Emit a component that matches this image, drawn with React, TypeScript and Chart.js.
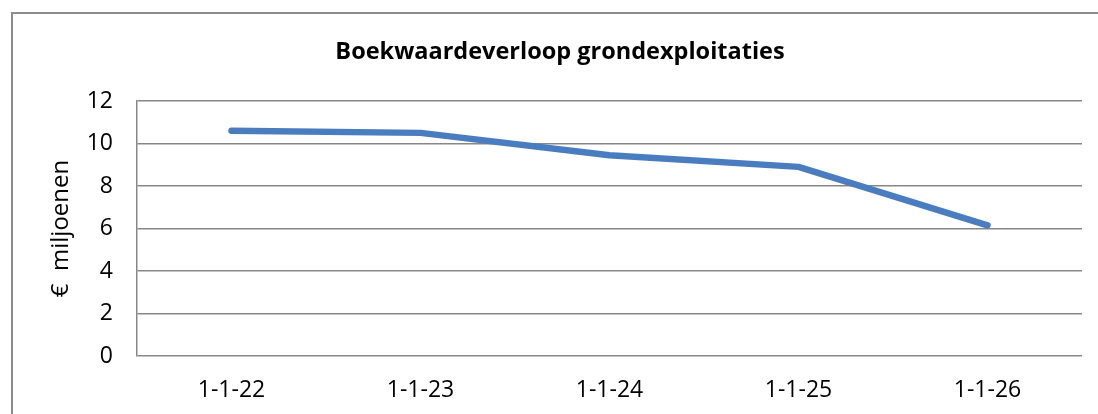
import React, { useEffect, useRef } from "react";
import { Chart, registerables } from "chart.js";

Chart.register(...registerables);

const categories: string[] = ["1-1-22", "1-1-23", "1-1-24", "1-1-25", "1-1-26"];
const boekwaarde: number[] = [10.6, 10.5, 9.45, 8.9, 6.15];
const chartTitle = "Boekwaardeverloop grondexploitaties";
const yAxisTitle = "€  miljoenen";
const yMin = 0;
const yMax = 12;
const yStep = 2;

const FONT = "'Open Sans', 'Liberation Sans', sans-serif";

const titlePlugin = {
  id: "centeredTitle",
  afterDraw(chart: any) {
    const ctx = chart.ctx;
    ctx.save();
    ctx.font = `bold 23.5px ${FONT}`;
    ctx.fillStyle = "#000000";
    ctx.textAlign = "center";
    ctx.textBaseline = "middle";
    ctx.fillText(chartTitle, 560, 52);
    ctx.restore();
  },
};

export default function App() {
  const canvasRef = useRef<HTMLCanvasElement | null>(null);

  useEffect(() => {
    if (!canvasRef.current) return;
    const chart = new Chart(canvasRef.current, {
      type: "line",
      data: {
        labels: categories,
        datasets: [
          {
            label: chartTitle,
            data: boekwaarde,
            borderColor: "#4a7dbf",
            borderWidth: 6.5,
            pointRadius: 0,
            pointHoverRadius: 0,
            tension: 0,
            fill: false,
            borderCapStyle: "round",
            borderJoinStyle: "round",
          },
        ],
      },
      options: {
        animation: false,
        responsive: false,
        layout: { padding: { top: 101, left: 12, right: 16, bottom: 0 } },
        plugins: {
          legend: { display: false },
          title: { display: false },
          tooltip: { enabled: false },
        },
        scales: {
          x: {
            offset: true,
            grid: { display: false, drawTicks: false },
            border: { display: false },
            ticks: {
              color: "#000000",
              font: { family: FONT, size: 23 },
              padding: 21,
              maxRotation: 0,
            },
            afterFit(scale: any) {
              scale.height = 58;
            },
          },
          y: {
            min: yMin,
            max: yMax,
            grid: { color: "#878787", lineWidth: 1.5, drawTicks: false },
            border: { display: true, color: "#878787", width: 1.5 },
            ticks: {
              stepSize: yStep,
              color: "#000000",
              font: { family: FONT, size: 23 },
              padding: 24,
            },
            title: {
              display: true,
              text: yAxisTitle,
              color: "#000000",
              font: { family: FONT, size: 24 },
              padding: { top: 35, bottom: 0 },
            },
            afterFit(scale: any) {
              scale.width = 125;
            },
          },
        },
      },
      plugins: [titlePlugin],
    } as any);
    return () => chart.destroy();
  }, []);

  return (
    <div
      style={{
        position: "fixed",
        left: 0,
        top: 0,
        width: 1098,
        height: 414,
        overflow: "hidden",
        background: "#ffffff",
      }}
    >
      <div
        style={{
          position: "absolute",
          left: 11,
          top: 12,
          width: 1200,
          height: 500,
          border: "2px solid #8c8c8c",
          boxSizing: "border-box",
        }}
      />
      <canvas
        ref={canvasRef}
        width={1098}
        height={414}
        style={{ position: "absolute", left: 0, top: 0, width: 1098, height: 414 }}
      />
    </div>
  );
}
